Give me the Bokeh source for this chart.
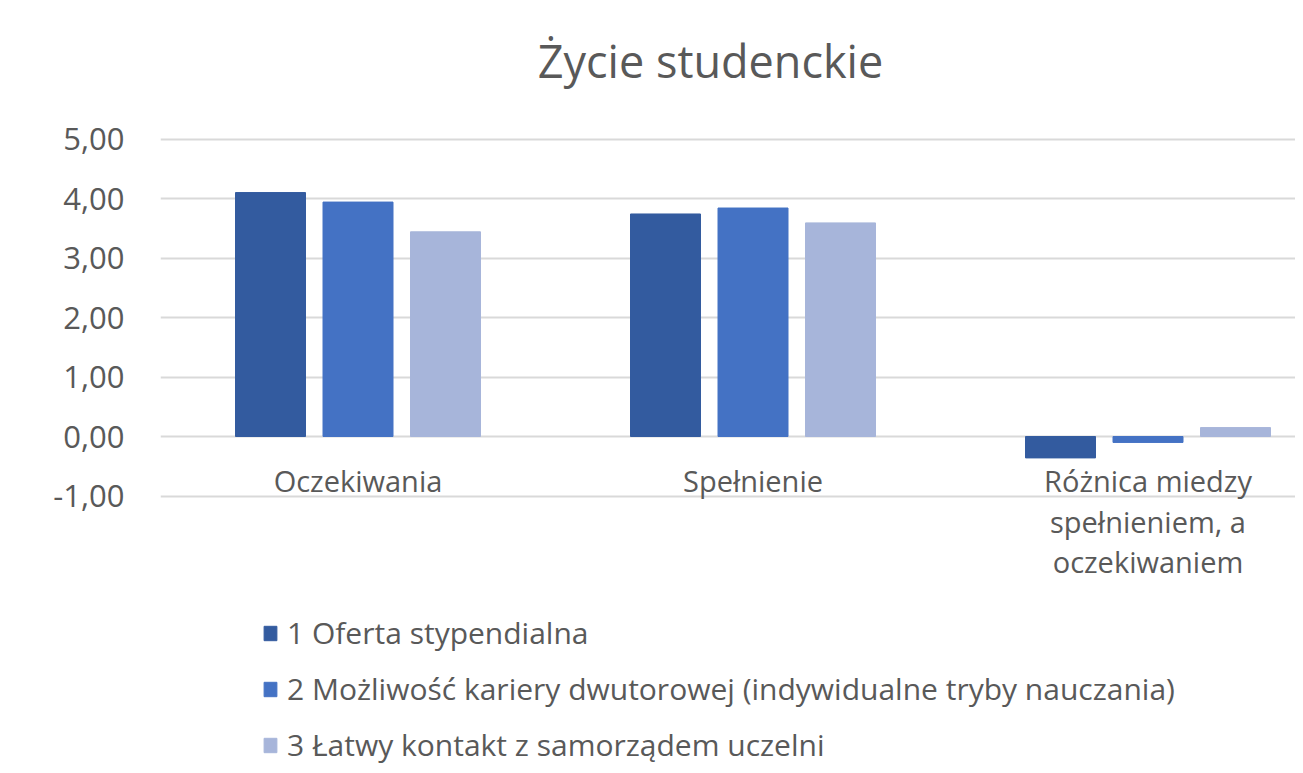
from bokeh.plotting import figure
from bokeh.models import (ColumnDataSource, FixedTicker, Legend, LegendItem, Label)
from bokeh.transform import dodge
from bokeh.core.properties import value
from bokeh.embed import file_html
from bokeh.resources import INLINE

# ---- data ----
categories = ["Oczekiwania", "Spełnienie", "Różnica miedzy\nspełnieniem, a\noczekiwaniem"]
series_names = ["1 Oferta stypendialna",
                "2 Możliwość kariery dwutorowej (indywidualne tryby nauczania)",
                "3 Łatwy kontakt z samorządem uczelni"]
s1 = [4.10, 3.74, -0.36]
s2 = [3.94, 3.84, -0.10]
s3 = [3.44, 3.59, 0.15]
y_ticks = [-1, 0, 1, 2, 3, 4, 5]
y_tick_labels = ["-1,00", "0,00", "1,00", "2,00", "3,00", "4,00", "5,00"]
title_text = "Życie studenckie"

colors = ["#335B9F", "#4472C4", "#A7B5DA"]
FONT = "Open Sans"
TXT = "#595959"

xpos = [i + 0.5 for i in range(len(categories))]
src = ColumnDataSource(dict(x=xpos, s1=s1, s2=s2, s3=s3, cat=categories))

W, H = 1295, 765
left = 160
px_per_unit = 59.5
zero_y = 436
ytop = zero_y / px_per_unit
ybot = -(H - zero_y) / px_per_unit
xcat_px = 395.0
xend = (W - left) / xcat_px

p = figure(width=W, height=H, output_backend="svg", toolbar_location=None,
           x_range=(0, xend), y_range=(ybot, ytop),
           min_border_left=left, min_border_right=0, min_border_top=0, min_border_bottom=0)
p.outline_line_color = None
p.xaxis.visible = False
p.xgrid.grid_line_color = None

yax = p.yaxis[0]
yax.ticker = FixedTicker(ticks=y_ticks)
yax.major_label_overrides = {t: l for t, l in zip(y_ticks, y_tick_labels)}
yax.axis_line_color = None
yax.major_tick_line_color = None
yax.minor_tick_line_color = None
yax.major_label_standoff = 30
yax.major_label_text_font = FONT
yax.major_label_text_font_size = "31px"
yax.major_label_text_color = TXT

p.ygrid.ticker = FixedTicker(ticks=y_ticks)
p.ygrid.grid_line_color = "#D9D9D9"
p.ygrid.grid_line_width = 2

off = 87.5 / xcat_px
bw = 70 / xcat_px
renderers = []
for col, o, c in zip(["s1", "s2", "s3"], [-off, 0, off], colors):
    r = p.vbar(x=dodge("x", o, range=p.x_range), top=col, bottom=0, width=bw,
               source=src, fill_color=c, line_color=c)
    renderers.append(r)

p.text(x="x", y=-0.42, text="cat", source=src, text_align="center", text_baseline="top",
       text_font=value(FONT), text_font_size="29px", text_color=TXT, text_line_height=1.03)

title = Label(x=(710 - left) / xcat_px, y=(zero_y - 60) / px_per_unit, text=title_text,
              text_align="center", text_baseline="middle", text_font=FONT,
              text_font_size="45px", text_color=TXT)
p.add_layout(title)

legend = Legend(items=[LegendItem(label=n, renderers=[r]) for n, r in zip(series_names, renderers)],
                location=(102, 0), orientation="vertical",
                glyph_width=16, glyph_height=18, label_standoff=9,
                label_text_font=FONT, label_text_font_size="30px", label_text_color=TXT,
                spacing=15, padding=0, margin=0, border_line_color=None,
                background_fill_alpha=0)
p.add_layout(legend)

open("out.html", "w").write(file_html(p, INLINE))
